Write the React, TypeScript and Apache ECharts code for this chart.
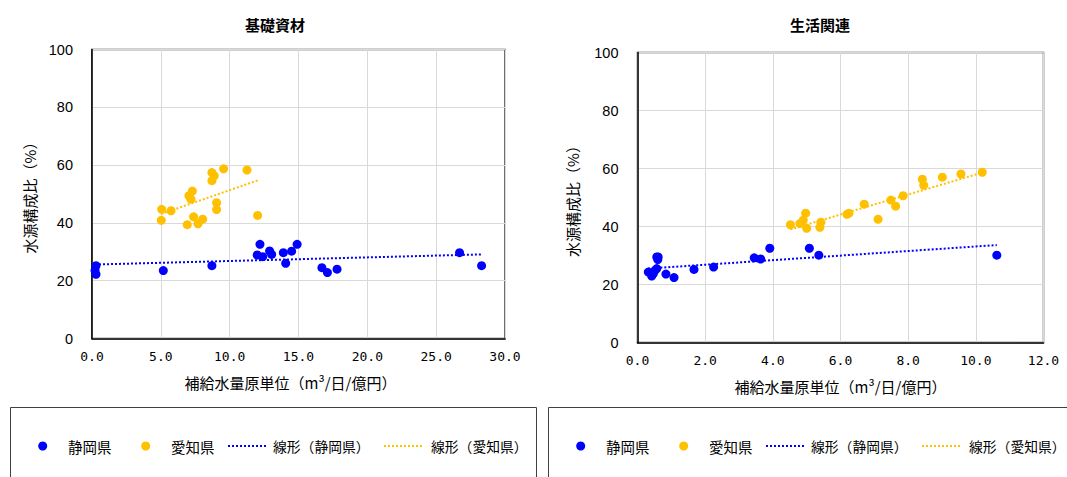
import React, { useEffect, useRef } from "react";
import * as echarts from "echarts";

// ---- data ----
const xTicksLeft = { min: 0, max: 30, interval: 5 };
const xTicksRight = { min: 0, max: 12, interval: 2 };
const yTicks = { min: 0, max: 100, interval: 20 };

const chartTitles = ["基礎資材", "生活関連"];
const seriesNames = ["静岡県", "愛知県", "線形（静岡県）", "線形（愛知県）"];

const kisoShizuoka: number[][] = [
  [0.29, 25.2], [0.22, 23.5], [0.29, 22.2], [5.18, 23.5], [8.71, 25.2],
  [12.2, 32.6], [12.0, 28.9], [12.4, 28.3], [12.9, 30.3], [13.05, 29.1],
  [13.9, 29.7], [14.07, 26.0], [14.5, 30.2], [14.9, 32.6], [16.7, 24.5],
  [17.1, 22.8], [17.8, 24.0], [26.7, 29.7], [28.3, 25.2],
];
const kisoAichi: number[][] = [
  [5.06, 44.7], [5.03, 40.9], [5.74, 44.2], [6.92, 39.4], [7.04, 49.4],
  [7.29, 51.0], [7.19, 48.2], [7.38, 42.1], [7.7, 39.7], [8.04, 41.3],
  [8.71, 57.4], [8.88, 56.3], [8.71, 54.6], [9.05, 47.0], [9.05, 44.6],
  [9.56, 58.7], [11.26, 58.3], [12.03, 42.6],
];
const kisoTrendShizuoka: number[][] = [[0.22, 25.6], [28.3, 29.1]];
const kisoTrendAichi: number[][] = [[5.03, 43.1], [12.03, 54.7]];

const seikatsuShizuoka: number[][] = [
  [0.32, 24.3], [0.42, 22.9], [0.47, 23.8], [0.52, 24.9], [0.57, 25.5],
  [0.57, 29.5], [0.61, 29.5], [0.6, 28.6], [0.84, 23.6], [1.08, 22.4],
  [1.67, 25.2], [2.25, 26.0], [3.45, 29.2], [3.64, 28.8], [3.91, 32.5],
  [5.08, 32.5], [5.36, 30.1], [10.62, 30.1],
];
const seikatsuAichi: number[][] = [
  [4.52, 40.6], [4.8, 41.0], [4.9, 42.2], [4.97, 44.6], [5.0, 39.4],
  [5.42, 41.5], [5.39, 39.7], [6.19, 44.2], [6.25, 44.6], [6.7, 47.7],
  [7.11, 42.5], [7.49, 49.1], [7.63, 47.0], [7.85, 50.6], [8.42, 56.3],
  [8.46, 54.2], [9.01, 57.0], [9.56, 58.1], [10.19, 58.7],
];
const seikatsuTrendShizuoka: number[][] = [[0.32, 25.5], [10.62, 33.6]];
const seikatsuTrendAichi: number[][] = [[4.52, 39.0], [10.19, 58.6]];

const xAxisName = "補給水量原単位（m³/日/億円）";
const yAxisName = "水源構成比（%）";

// ---- styles ----
const BLUE = "#0000FF";
const YELLOW = "#FFC000";
const CJK = "'Noto Sans CJK JP', sans-serif";
const MONO = "'DejaVu Sans Mono', monospace";
const SANS = "'Liberation Sans', Arial, sans-serif";

function makeXAxis(gridIndex: number, t: { min: number; max: number; interval: number }, shift: number) {
  return {
    type: "value",
    gridIndex,
    min: t.min,
    max: t.max,
    interval: t.interval,
    axisLine: { show: true, onZero: false, lineStyle: { color: "#000", width: 1.5 } },
    axisTick: { show: false },
    splitLine: { show: true, lineStyle: { color: "#d9d9d9", width: 1 } },
    axisLabel: {
      formatter: (v: number) => v.toFixed(1),
      margin: 11,
      fontFamily: MONO,
      fontSize: 13,
      color: "#000",
    },
    name: xAxisName,
    nameLocation: "middle",
    nameGap: 36,
    nameTextStyle: { fontFamily: CJK, fontSize: 15, color: "#000", padding: [0, shift, 0, 0] },
  };
}

function makeYAxis(gridIndex: number, gap: number) {
  return {
    type: "value",
    gridIndex,
    min: yTicks.min,
    max: yTicks.max,
    interval: yTicks.interval,
    axisLine: { show: true, lineStyle: { color: "#000", width: 1.5 } },
    axisTick: { show: false },
    splitLine: { show: true, lineStyle: { color: "#d9d9d9", width: 1 } },
    axisLabel: { margin: 19, fontFamily: SANS, fontSize: 14.5, color: "#000" },
    name: yAxisName,
    nameLocation: "middle",
    nameRotate: 90,
    nameGap: gap,
    nameTextStyle: { fontFamily: CJK, fontSize: 15, color: "#000" },
  };
}

function scatter(name: string, data: number[][], color: string, idx: number) {
  return {
    type: "scatter",
    name,
    xAxisIndex: idx,
    yAxisIndex: idx,
    data,
    symbol: "circle",
    symbolSize: 9,
    itemStyle: { color, opacity: 1 },
    z: 3,
  };
}

function trend(name: string, data: number[][], color: string, idx: number) {
  return {
    type: "line",
    name,
    xAxisIndex: idx,
    yAxisIndex: idx,
    data,
    symbol: "none",
    showSymbol: false,
    itemStyle: { color },
    lineStyle: { color, width: 2, type: "dotted" },
    z: 2,
  };
}

// legend drawn as graphics inside a framed box
function legendGroup(offsetX: number) {
  const cy = 446;
  const txt = (text: string, x: number, size: number) => ({
    type: "text",
    style: {
      text,
      x: offsetX + x,
      y: cy,
      font: `${size}px ${CJK}`,
      fill: "#000",
      textVerticalAlign: "middle",
      textAlign: "left",
    },
  });
  return {
    type: "group",
    children: [
      {
        type: "rect",
        shape: { x: offsetX + 10.5, y: 407.5, width: 526, height: 100 },
        style: { fill: "none", stroke: "#404040", lineWidth: 1 },
      },
      { type: "circle", shape: { cx: offsetX + 42.7, cy, r: 4.5 }, style: { fill: BLUE } },
      txt(seriesNames[0], 68, 14.5),
      { type: "circle", shape: { cx: offsetX + 145.7, cy, r: 4.5 }, style: { fill: YELLOW } },
      txt(seriesNames[1], 171, 14.5),
      {
        type: "line",
        shape: { x1: offsetX + 228, y1: cy, x2: offsetX + 268, y2: cy },
        style: { stroke: BLUE, lineWidth: 2, lineDash: [2, 2] },
      },
      txt(seriesNames[2], 273, 13.8),
      {
        type: "line",
        shape: { x1: offsetX + 384, y1: cy, x2: offsetX + 424, y2: cy },
        style: { stroke: YELLOW, lineWidth: 2, lineDash: [2, 2] },
      },
      txt(seriesNames[3], 431, 13.8),
    ],
  };
}

export default function App() {
  const ref = useRef<HTMLDivElement>(null);
  useEffect(() => {
    if (!ref.current) return;
    const chart = echarts.init(ref.current, undefined, { renderer: "svg" });
    const option = {
      animation: false,
      backgroundColor: "#fff",
      title: [
        {
          text: chartTitles[0],
          left: 245,
          top: 17,
          padding: 0,
          textStyle: { fontFamily: CJK, fontSize: 15, fontWeight: "bold", color: "#000" },
        },
        {
          text: chartTitles[1],
          left: 790,
          top: 17,
          padding: 0,
          textStyle: { fontFamily: CJK, fontSize: 15, fontWeight: "bold", color: "#000" },
        },
      ],
      grid: [
        { left: 92, top: 49.5, width: 413, height: 289, show: true, borderColor: "#404040", borderWidth: 1.5 },
        { left: 637.5, top: 52.5, width: 406, height: 290, show: true, borderColor: "#404040", borderWidth: 1.5 },
      ],
      xAxis: [makeXAxis(0, xTicksLeft, 16), makeXAxis(1, xTicksRight, 0)],
      yAxis: [makeYAxis(0, 55), makeYAxis(1, 58)],
      graphic: [legendGroup(0), legendGroup(538)],
      series: [
        trend(seriesNames[2], kisoTrendShizuoka, BLUE, 0),
        trend(seriesNames[3], kisoTrendAichi, YELLOW, 0),
        scatter(seriesNames[0], kisoShizuoka, BLUE, 0),
        scatter(seriesNames[1], kisoAichi, YELLOW, 0),
        trend(seriesNames[2], seikatsuTrendShizuoka, BLUE, 1),
        trend(seriesNames[3], seikatsuTrendAichi, YELLOW, 1),
        scatter(seriesNames[0], seikatsuShizuoka, BLUE, 1),
        scatter(seriesNames[1], seikatsuAichi, YELLOW, 1),
      ],
    };
    chart.setOption(option as any);
    return () => chart.dispose();
  }, []);
  return (
    <div
      ref={ref}
      style={{ position: "absolute", left: 0, top: 0, width: 1067, height: 477 }}
    />
  );
}
